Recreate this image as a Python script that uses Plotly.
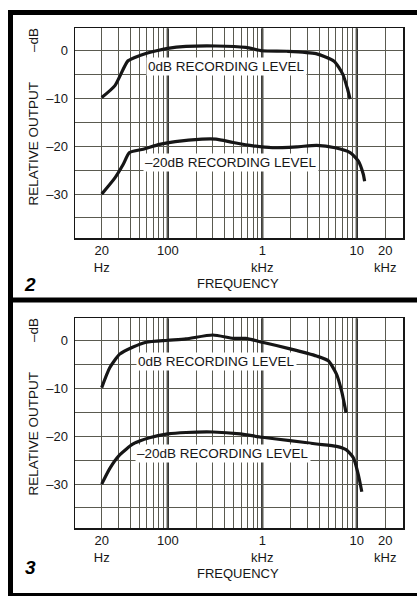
import plotly.graph_objects as go

# ---------------- data ----------------
# Panel 2: frequency (Hz) / relative output (dB)
p2_hi_f = [20, 27.6, 38, 50.6, 76, 100, 156, 324, 669, 1000, 1820, 3700, 5750, 7100, 7900, 8500]
p2_hi_db = [-9.8, -7.3, -2.1, -1.0, 0.0, 0.5, 0.9, 1.0, 0.7, 0.0, -0.1, -0.6, -2.2, -4.9, -7.7, -10.1]
p2_lo_f = [20, 27.6, 33.7, 39.4, 55, 82, 120, 230, 324, 493, 800, 1280, 2320, 3770, 5900, 8500, 10400, 11700, 12100]
p2_lo_db = [-30.0, -26.6, -23.8, -21.3, -20.6, -19.6, -19.0, -18.5, -18.5, -19.2, -19.9, -20.3, -20.1, -19.8, -20.3, -21.3, -23.1, -25.8, -27.3]

# Panel 3
p3_hi_f = [20, 24.4, 31, 43, 59, 100, 156, 300, 493, 669, 1000, 1970, 3760, 5000, 6100, 6900, 7400, 7700]
p3_hi_db = [-9.8, -5.6, -2.8, -1.3, -0.3, 0.1, 0.4, 1.2, 0.5, 0.5, -0.3, -1.7, -3.2, -4.2, -7.0, -10.5, -13.3, -15.1]
p3_lo_f = [20, 24.4, 31, 43, 64, 100, 156, 300, 583, 1000, 1970, 3760, 6100, 7700, 9200, 10400, 11300]
p3_lo_db = [-30.0, -26.7, -23.9, -21.6, -20.3, -19.5, -19.2, -19.1, -19.5, -20.2, -20.9, -21.6, -22.1, -22.8, -24.5, -28.1, -31.6]

x_tickvals = [20, 100, 1000, 10000, 20000]
x_ticktext = ["20<br>Hz", "100", "1<br>kHz", "10", "20<br>kHz"]
x_gridvals = [20, 30, 40, 50, 60, 70, 80, 90, 100, 200, 300, 400, 500, 600, 700, 800, 900,
              1000, 2000, 3000, 4000, 5000, 6000, 7000, 8000, 9000, 10000, 20000]
decades = [100, 1000, 10000]
y_tickvals = [0, -10, -20, -30]
y_ticktext = ["0", "–10", "–20", "–30"]
y_gridvals = [0, -5, -10, -15, -20, -25, -30, -35]

W, H = 417, 596
ML, MR = 75, 14
PW = W - ML - MR


def px_x(p):
    return (p - ML) / PW


def px_y(p):
    return 1 - p / H


FONT = "Liberation Sans, Arial, sans-serif"
INK = "#161616"
GRID = "#5a5a50"

fig = go.Figure()
for f, d, ax in [(p2_hi_f, p2_hi_db, 1), (p2_lo_f, p2_lo_db, 1), (p3_hi_f, p3_hi_db, 2), (p3_lo_f, p3_lo_db, 2)]:
    fig.add_trace(go.Scatter(
        x=f, y=d, mode="lines", line=dict(color=INK, width=3.2, shape="spline", smoothing=0.6),
        xaxis="x" if ax == 1 else "x2", yaxis="y" if ax == 1 else "y2",
        showlegend=False, hoverinfo="skip"))

panels = [  # (top px, bottom px)
    (28.3, 238.3),
    (318.3, 528.3),
]

xa = dict(type="log", range=[1.0185, 4.489], tickmode="array", tickvals=x_tickvals, ticktext=x_ticktext,
          showgrid=True, gridcolor=GRID, gridwidth=1, ticks="", showline=True, mirror=True,
          linecolor=INK, linewidth=1.5, zeroline=False,
          tickfont=dict(family=FONT, size=13, color=INK),
          minor=dict(tickmode="array", tickvals=x_gridvals, showgrid=True, gridcolor=GRID, gridwidth=1, ticks=""))
ya = dict(range=[-39.25, 4.7], tickmode="array", tickvals=y_tickvals, ticktext=y_ticktext,
          showgrid=True, gridcolor=GRID, gridwidth=1, ticks="", showline=True, mirror=True,
          linecolor=INK, linewidth=1.5, zeroline=False, ticklabelstandoff=3,
          tickfont=dict(family=FONT, size=13, color=INK),
          minor=dict(tickmode="array", tickvals=y_gridvals, showgrid=True, gridcolor=GRID, gridwidth=1, ticks=""))

layout = dict(width=W, height=H, margin=dict(l=ML, r=MR, t=0, b=0),
              paper_bgcolor="white", plot_bgcolor="white", showlegend=False)
for i, (top, bot) in enumerate(panels):
    sfx = "" if i == 0 else str(i + 1)
    layout["xaxis" + sfx] = dict(xa, domain=[0, 1], anchor="y" + sfx)
    layout["yaxis" + sfx] = dict(ya, domain=[px_y(bot), px_y(top)], anchor="x" + sfx)
fig.update_layout(**layout)

shapes = []
for i in range(2):
    sfx = "" if i == 0 else str(i + 1)
    for d in decades:
        shapes.append(dict(type="line", xref="x" + sfx, yref="y" + sfx + " domain", x0=d, x1=d, y0=0, y1=1,
                           line=dict(color=INK, width=2.2), layer="below"))


def hbar(y, w, x0=8, x1=417):
    return dict(type="line", xref="paper", yref="paper", x0=px_x(x0), x1=px_x(x1), y0=px_y(y), y1=px_y(y),
                line=dict(color="black", width=w))


shapes += [hbar(12.5, 5), hbar(300, 5), hbar(594.5, 3),
           dict(type="line", xref="paper", yref="paper", x0=px_x(10.5), x1=px_x(10.5), y0=px_y(10), y1=px_y(596),
                line=dict(color="black", width=5))]
fig.update_layout(shapes=shapes)

ann = []
tf = dict(family=FONT, size=13.5, color=INK)
labels = [
    ("0dB RECORDING LEVEL", 226.5, 66),
    ("–20dB RECORDING LEVEL", 230.5, 162),
    ("0dB RECORDING LEVEL", 216, 361.7),
    ("–20dB RECORDING LEVEL", 222.5, 453),
]
for t, x, y in labels:
    ann.append(dict(text=t, x=px_x(x), y=px_y(y), xref="paper", yref="paper", showarrow=False,
                    font=tf, bgcolor="white", borderpad=1, xanchor="center", yanchor="middle"))

for i, (top, bot) in enumerate(panels):
    off = 0 if i == 0 else 290
    common = dict(xref="paper", yref="paper", showarrow=False, xanchor="center", yanchor="middle")
    ann.append(dict(text="RELATIVE OUTPUT", x=px_x(33), y=px_y(143.5 + off), textangle=-90,
                    font=dict(family=FONT, size=13.5, color=INK), **common))
    ann.append(dict(text="–dB", x=px_x(33), y=px_y(40 + off), textangle=-90,
                    font=dict(family=FONT, size=13.5, color=INK), **common))
    ann.append(dict(text="FREQUENCY", x=px_x(238), y=px_y(283 + off),
                    font=dict(family=FONT, size=13, color=INK), **common))
    ann.append(dict(text="<b><i>%d</i></b>" % (i + 2), x=px_x(30), y=px_y(284 + off + (0 if i == 0 else -7)),
                    font=dict(family=FONT, size=19, color="black"), **common))
fig.update_layout(annotations=ann)

fig.write_html("out.html", config={"displayModeBar": False, "staticPlot": True},
               post_script="document.body.style.margin='0';document.body.style.overflow='hidden';")
